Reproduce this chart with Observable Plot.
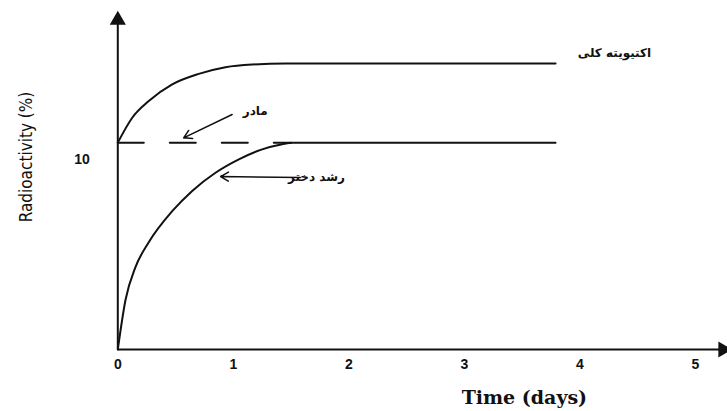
<!DOCTYPE html>
<html>
<head>
<meta charset="utf-8">
<script src="https://cdn.jsdelivr.net/npm/d3@7"></script>
<script src="https://cdn.jsdelivr.net/npm/@observablehq/plot@0.6"></script>
<style>
  html, body { margin: 0; padding: 0; background: #fff; }
</style>
</head>
<body>
<div id="chart"></div>
<script>
// Time (days)
const totalTime = [0, 0.125, 0.268, 0.471, 0.701, 0.932, 1.164, 1.452, 3.79];
const totalActivity = [10.8, 12.1, 12.97, 13.84, 14.39, 14.74, 14.88, 14.93, 14.93];

const daughterTime = [0, 0.067, 0.153, 0.268, 0.471, 0.644, 0.846, 1.048, 1.25, 1.423, 1.51, 3.79];
const daughterActivity = [0, 2.6, 4.3, 5.6, 7.22, 8.28, 9.23, 9.93, 10.45, 10.72, 10.8, 10.8];

const parentTime = [0, 1.5];
const parentActivity = [10.8, 10.8];

const xTicks = [0, 1, 2, 3, 4, 5];
const yTicks = [10];

const labelTotal = "اکتیویته کلی";
const labelParent = "مادر";
const labelDaughter = "رشد دختر";
const xLabel = "Time (days)";
const yLabel = "Radioactivity (%)";

const total = totalTime.map((t, i) => ({t, a: totalActivity[i]}));
const daughter = daughterTime.map((t, i) => ({t, a: daughterActivity[i]}));
const parent = parentTime.map((t, i) => ({t, a: parentActivity[i]}));

const annotations = [
  {text: labelTotal, t: 4.30, a: 15.46},
  {text: labelParent, t: 1.19, a: 12.44},
  {text: labelDaughter, t: 1.72, a: 9.0}
];
const pointers = [
  {t1: 0.99, a1: 12.27, t2: 0.57, a2: 11.05},
  {t1: 1.58, a1: 8.98, t2: 0.89, a2: 9.03}
];
const axisTitles = [
  {text: xLabel, t: 3.52, a: -2.55},
  {text: yLabel, t: -0.79, a: 10.05}
];

const chart = Plot.plot({
  width: 727,
  height: 411,
  marginLeft: 117.3,
  marginRight: 32.2,
  marginTop: 10,
  marginBottom: 62,
  x: {domain: [0, 5]},
  y: {domain: [0, 17.7]},
  style: {background: "#fff", color: "#111"},
  marks: [
    // axes lines
    Plot.ruleY([0], {x1: 0, x2: 5.22, stroke: "#111", strokeWidth: 2}),
    Plot.ruleX([0], {y1: 0, y2: 17.2, stroke: "#111", strokeWidth: 2}),
    Plot.dot([{t: 5.24, a: 0}], {x: "t", y: "a", symbol: "triangle", r: 6, fill: "#111", stroke: "none", rotate: 90}),
    Plot.dot([{t: 0, a: 17.2}], {x: "t", y: "a", symbol: "triangle", r: 6, fill: "#111", stroke: "none"}),
    Plot.axisX({ticks: xTicks, tickSize: 0, tickPadding: 10, tickFormat: d3.format("d"), fontSize: 14, fontWeight: "bold", fontFamily: "Liberation Sans", label: null}),
    Plot.axisY({ticks: yTicks, tickSize: 0, tickPadding: 28, dy: 2, fontSize: 14, fontWeight: "bold", fontFamily: "Liberation Sans", label: null}),
    Plot.text(axisTitles.slice(0, 1), {x: "t", y: "a", text: "text", rotate: 0, fontSize: 19, fontWeight: "bold", fontFamily: "DejaVu Serif", fill: "#111"}),
    Plot.text(axisTitles.slice(1), {x: "t", y: "a", text: "text", rotate: -90, fontSize: 17, fontFamily: "DejaVu Sans Condensed", fill: "#111"}),
    // curves
    Plot.line(parent, {x: "t", y: "a", stroke: "#111", strokeWidth: 2, strokeDasharray: "26,26"}),
    Plot.line(total, {x: "t", y: "a", stroke: "#111", strokeWidth: 2, curve: "monotone-x"}),
    Plot.line(daughter, {x: "t", y: "a", stroke: "#111", strokeWidth: 2, curve: "monotone-x"}),
    // annotations
    Plot.arrow(pointers, {x1: "t1", y1: "a1", x2: "t2", y2: "a2", stroke: "#111", strokeWidth: 1.5, headLength: 9}),
    Plot.text(annotations, {x: "t", y: "a", text: "text", fontSize: 12, fontWeight: "bold", fontFamily: "DejaVu Sans", fill: "#111"})
  ]
});
document.getElementById("chart").appendChild(chart);
</script>
</body>
</html>
